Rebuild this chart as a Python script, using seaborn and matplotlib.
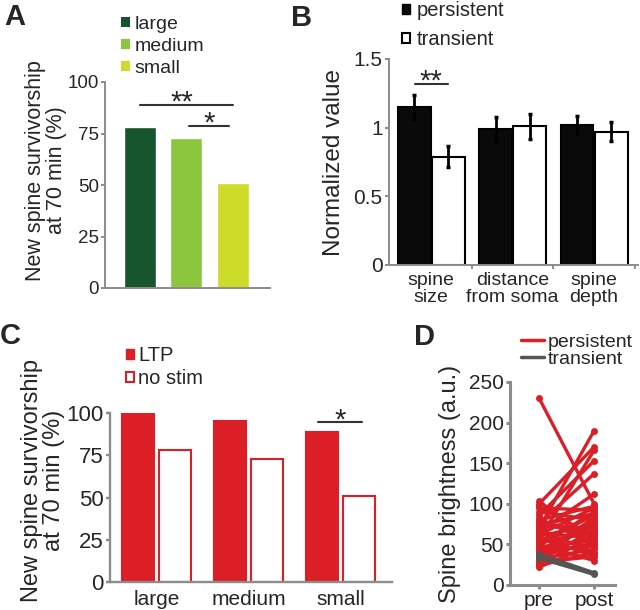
import matplotlib
matplotlib.use("Agg")
import matplotlib.pyplot as plt
import pandas as pd
import seaborn as sns
from matplotlib.patches import Patch
from matplotlib.lines import Line2D

# --- data ---
sizes = ["large", "medium", "small"]
survival_a = [78, 73, 51]
size_colors = ["#17552e", "#8cc63f", "#cddc29"]

features = ["spine\nsize", "distance\nfrom soma", "spine\ndepth"]
persistent_vals = [1.15, 0.99, 1.02]
transient_vals = [0.79, 1.01, 0.97]
persistent_err = [0.09, 0.085, 0.065]
transient_err = [0.075, 0.09, 0.07]

conditions = ["LTP", "no stim"]
ltp_surv = [100, 95, 89]
nostim_surv = [78, 73, 51]

times = ["pre", "post"]
pre_persistent = [230, 104, 100, 97, 95, 90, 86, 82, 80, 78, 76, 74, 72, 70, 68, 66, 64, 62, 60,
                  58, 56, 54, 52, 50, 48, 46, 44, 42, 40, 38, 36, 34, 32, 30, 28, 26, 24, 22]
post_persistent = [100, 45, 170, 60, 92, 80, 153, 50, 97, 64, 137, 88, 70, 190, 40, 112, 58, 95, 75,
                   36, 166, 85, 66, 30, 90, 55, 72, 48, 82, 62, 52, 78, 44, 68, 35, 60, 40, 50]
pre_transient = [38, 33]
post_transient = [15, 13]

RED = "#dc1f26"
GRAY = "#8c8c8c"
DARK = "#333333"

sns.set_style("ticks")
plt.rcParams["font.family"] = ["Liberation Sans", "DejaVu Sans"]

fig = plt.figure(figsize=(6.4, 6.1), dpi=100)


def px_axes(l, t, r, b):
    return fig.add_axes([l / 640, 1 - b / 610, (r - l) / 640, (b - t) / 610])


def style(ax, lw):
    sns.despine(ax=ax)
    for s in ["left", "bottom"]:
        ax.spines[s].set_color(GRAY)
        ax.spines[s].set_linewidth(lw)
    ax.tick_params(color=GRAY, width=lw, length=3, pad=1.5)


def legend(ax, handles, labels, x, y, **kw):
    ax.legend(handles, labels, loc="upper left", bbox_to_anchor=(x / 640, 1 - y / 610),
              bbox_transform=fig.transFigure, frameon=False, borderpad=0,
              borderaxespad=0, **kw)


def stars(ax, x, y, s):
    ax.text(x, y, s, ha="center", va="baseline", fontsize=21, clip_on=False)


# --- A ---
ax_a = px_axes(105, 82, 270, 288)
df_a = pd.DataFrame({"size": sizes, "survival": survival_a})
sns.barplot(df_a, x="size", y="survival", hue="size", palette=size_colors, width=0.69,
            saturation=1, legend=False, ax=ax_a)
style(ax_a, 1.4)
ax_a.set_xlim(-0.75, 2.8)
ax_a.set_ylim(0, 100)
ax_a.set_yticks([0, 25, 50, 75, 100])
ax_a.tick_params(axis="y", labelsize=13.5)
ax_a.set_xticks([])
ax_a.set_xlabel("")
ax_a.set_ylabel("New spine survivorship\nat 70 min (%)", fontsize=15.5, linespacing=1.0)
ax_a.yaxis.set_label_coords(-0.23, 0.57)
ax_a.plot([0, 2], [89, 89], color=DARK, lw=1.5, clip_on=False)
ax_a.plot([1.05, 1.91], [78.6, 78.6], color=DARK, lw=1.5, clip_on=False)
stars(ax_a, 0.9, 86, "**")
stars(ax_a, 1.5, 75.7, "*")
legend(ax_a, [Patch(facecolor=c, edgecolor="none") for c in size_colors], sizes, 121, 16,
       fontsize=14, handlelength=0.45, handleheight=0.45, handletextpad=0.25, labelspacing=0.25)

# --- B ---
ax_b = px_axes(389, 59, 638, 265)
df_b = pd.DataFrame({"feature": features * 2,
                     "value": persistent_vals + transient_vals,
                     "type": ["persistent"] * 3 + ["transient"] * 3})
sns.barplot(df_b, x="feature", y="value", hue="type", palette=["#0a0a0a", "white"],
            width=0.84, gap=0.04, edgecolor="black", linewidth=1.5, saturation=1,
            legend=False, ax=ax_b)
for cont, errs in zip(ax_b.containers, [persistent_err, transient_err]):
    xs = [p.get_x() + p.get_width() / 2 for p in cont]
    ys = [p.get_height() for p in cont]
    ax_b.errorbar(xs, ys, yerr=errs, fmt="none", ecolor="black", elinewidth=2,
                  capsize=1.5, capthick=2.5)
style(ax_b, 1.4)
ax_b.set_xlim(-0.52, 2.54)
ax_b.set_ylim(0, 1.5)
ax_b.set_yticks([0, 0.5, 1, 1.5], ["0", "0.5", "1", "1.5"])
ax_b.tick_params(axis="y", labelsize=15)
ax_b.tick_params(axis="x", which="major", length=0, labelsize=14, pad=5)
ax_b.set_xticks([0.5, 1.5, 2.5], minor=True)
ax_b.tick_params(axis="x", which="minor", length=3, color=GRAY, width=1.4)
for t in ax_b.get_xticklabels():
    t.set_linespacing(1.0)
ax_b.set_xlabel("")
ax_b.set_ylabel("Normalized value", fontsize=17.5)
ax_b.yaxis.set_label_coords(-0.175, 0.5)
ax_b.plot([-0.2, 0.21], [1.32, 1.32], color=DARK, lw=1.5, clip_on=False)
stars(ax_b, 0.0, 1.28, "**")
legend(ax_b, [Patch(facecolor="#0a0a0a", edgecolor="black"),
              Patch(facecolor="white", edgecolor="black", linewidth=1.5)],
       ["persistent", "transient"], 402, 1,
       fontsize=14.5, handlelength=0.42, handleheight=0.42, handletextpad=0.3, labelspacing=0.5)

# --- C ---
ax_c = px_axes(110, 413, 392, 582)
df_c = pd.DataFrame({"size": sizes * 2, "survival": ltp_surv + nostim_surv,
                     "cond": [conditions[0]] * 3 + [conditions[1]] * 3})
sns.barplot(df_c, x="size", y="survival", hue="cond", palette=[RED, "white"], width=0.8,
            gap=0.125, edgecolor=RED, linewidth=1.5, saturation=1, legend=False, ax=ax_c)
style(ax_c, 1.7)
ax_c.set_xlim(-0.505, 2.56)
ax_c.set_ylim(0, 100)
ax_c.set_yticks([0, 25, 50, 75, 100])
ax_c.tick_params(axis="y", labelsize=16)
ax_c.tick_params(axis="x", length=0, labelsize=15, pad=6)
ax_c.set_xlabel("")
ax_c.set_ylabel("New spine survivorship\nat 70 min (%)", fontsize=17, linespacing=1.0)
ax_c.yaxis.set_label_coords(-0.16, 0.6)
ax_c.plot([1.755, 2.234], [94.7, 94.7], color=DARK, lw=1.5, clip_on=False)
stars(ax_c, 2.0, 90.5, "*")
legend(ax_c, [Patch(facecolor=RED, edgecolor=RED),
              Patch(facecolor="white", edgecolor=RED, linewidth=1.5)],
       conditions, 126, 346,
       fontsize=14.5, handlelength=0.42, handleheight=0.42, handletextpad=0.2, labelspacing=0.2)

# --- D ---
ax_d = px_axes(510, 382, 615, 585)
rows = []
for i, (a, b) in enumerate(zip(pre_persistent, post_persistent)):
    rows += [(f"p{i}", times[0], a, "persistent"), (f"p{i}", times[1], b, "persistent")]
for i, (a, b) in enumerate(zip(pre_transient, post_transient)):
    rows += [(f"t{i}", times[0], a, "transient"), (f"t{i}", times[1], b, "transient")]
df_d = pd.DataFrame(rows, columns=["spine", "time", "brightness", "group"])
for grp, col in [("persistent", RED), ("transient", "#555555")]:
    sns.lineplot(df_d[df_d.group == grp], x="time", y="brightness", units="spine",
                 estimator=None, sort=False, color=col, marker="o", markersize=5,
                 markeredgewidth=0, linewidth=2.4, ax=ax_d)
style(ax_d, 2.2)
ax_d.set_xlim(-0.53, 1.38)
ax_d.set_ylim(0, 250)
ax_d.set_yticks([0, 50, 100, 150, 200, 250])
ax_d.tick_params(labelsize=15)
ax_d.set_xlabel("")
ax_d.set_ylabel("Spine brightness (a.u.)", fontsize=17)
ax_d.yaxis.set_label_coords(-0.47, 0.5)
legend(ax_d, [Line2D([], [], color=RED, lw=2.5), Line2D([], [], color="#555555", lw=2.5)],
       ["persistent", "transient"], 521, 333,
       fontsize=14, handlelength=1.2, handletextpad=0.15, labelspacing=0.0)

# panel letters
for letter, x, y in [("A", 4, 3), ("B", 291, 4), ("C", 0, 322), ("D", 414, 323)]:
    fig.text(x / 640, 1 - y / 610, letter, fontsize=21, fontweight="bold", ha="left", va="top")

fig.savefig("out.png", dpi=100)
